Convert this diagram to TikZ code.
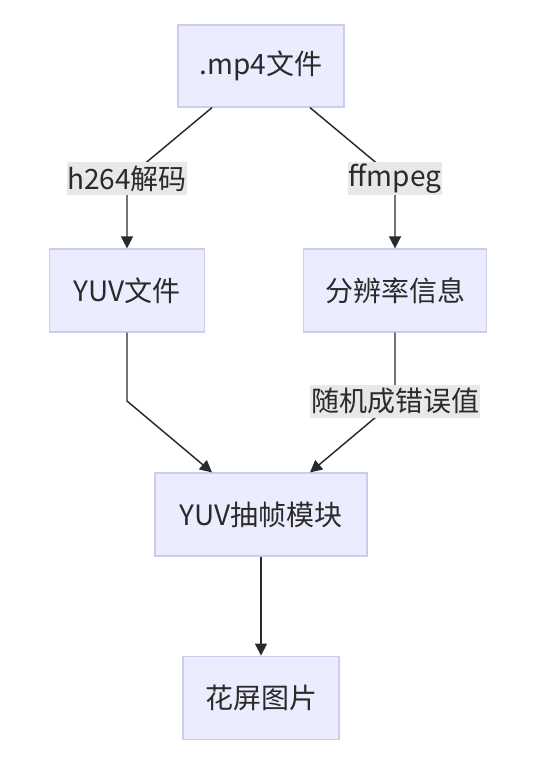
\documentclass[tikz,border=0pt]{standalone}
\usepackage{fontspec}
\setmainfont{Noto Sans CJK SC}
\usepackage{tikz}
\usetikzlibrary{positioning,arrows.meta}
\definecolor{boxfill}{HTML}{ECECFF}
\definecolor{boxline}{HTML}{CCCCEE}
\definecolor{lblfill}{HTML}{E8E8E8}
\definecolor{ink}{HTML}{2A2A2A}

\begin{document}
% 1 unit = 1 px of the reference (0.75pt), y grows downward
\begin{tikzpicture}[x=0.75pt,y=-0.75pt,>={Triangle[length=9pt,width=9pt]},
   every node/.style={font=\fontsize{21}{24}\selectfont,text=ink},
   box/.style={draw=boxline,line width=0.9pt,fill=boxfill,minimum height=62.25pt},
   lbl/.style={fill=lblfill,inner xsep=0.5pt,inner ysep=0pt,minimum height=24.75pt},
   flow/.style={->,draw=ink,line width=1.1pt}]
  \useasboundingbox (0,0) rectangle (542,784);
  \node (mp4) [box,minimum width=124.5pt,minimum height=61.5pt] at (261,66) {.mp4文件};
  \node (yuv) [box,minimum width=116.25pt] at (127,290.5) {YUV文件};
  \node (res) [box,minimum width=137.25pt] at (395,290.5) {分辨率信息};
  \node (frame) [box,minimum width=159pt] at (261,514.5) {YUV抽帧模块};
  \node (pic) [box,minimum width=117pt,below=74.25pt of frame] {花屏图片};
  \coordinate (h264pt) at (127,178.5);
  \coordinate (ffpt) at (395,178.5);
  \coordinate (randpt) at (395,401);
  % edges, labels sit on top of the lines
  \draw[flow] ([xshift=-36.75pt]mp4.south) -- (h264pt) node[lbl] (h264) {h264解码} -- (yuv.north);
  \draw[flow] ([xshift=36.75pt]mp4.south) -- (ffpt) node[lbl] (ff) {ffmpeg} -- (res.north);
  \draw[flow] (yuv.south) -- (yuv.south |- randpt) -- ([xshift=-36.75pt]frame.north);
  \draw[flow] (res.south) -- (randpt) node[lbl] (rand) {随机成错误值} -- ([xshift=36.75pt]frame.north);
  \draw[flow] (frame) -- (pic);
\end{tikzpicture}
\end{document}
